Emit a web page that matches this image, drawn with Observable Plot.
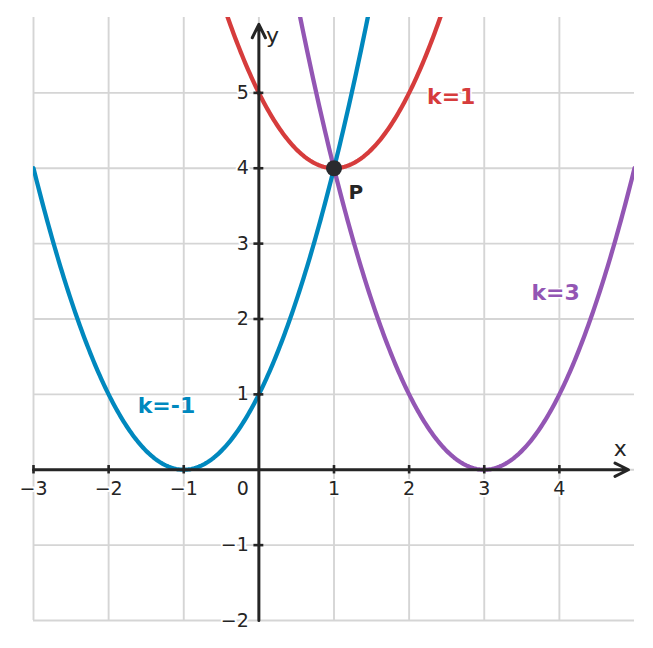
<!DOCTYPE html>
<html>
<head>
<meta charset="utf-8">
<script src="https://cdn.jsdelivr.net/npm/d3@7"></script>
<script src="https://cdn.jsdelivr.net/npm/@observablehq/plot@0.6"></script>
<style>
  html, body { margin: 0; padding: 0; background: #fff; }
  svg { display: block; }
</style>
</head>
<body>
<div id="chart"></div>
<script>
// Family of parabolas y = (x - k)^2 + c, all passing through P(1, 4)
const ks = [-1, 1, 3];
const offsets = [0, 4, 0];
const curveColors = ["#0088be", "#d63c3c", "#9356b4"];
const curveLabels = ["k=-1", "k=1", "k=3"];
const labelX = [-1.23, 2.56, 3.95];
const labelY = [0.84, 4.94, 2.34];

const pointP = { x: 1, y: 4, label: "P", lx: 1.29, ly: 3.68 };

const xTicks = [-3, -2, -1, 1, 2, 3, 4];
const yTicks = [-1, 1, 2, 3, 4, 5];
const yTickLabels = [-2, -1, 1, 2, 3, 4, 5];
const xGrid = [-3, -2, -1, 0, 1, 2, 3, 4];
const yGrid = [-2, -1, 0, 1, 2, 3, 4, 5];
const xDomain = [-3, 5];
const yDomain = [-2, 6];

const fmt = v => (v < 0 ? "\u2212" + Math.abs(v) : String(v));

// sample each curve on the x range
const xs = d3.range(xDomain[0], xDomain[1] + 1e-9, 0.02);
const curveData = ks.flatMap((k, i) =>
  xs.map(x => ({ x, y: (x - k) ** 2 + offsets[i], series: curveLabels[i] }))
);
const labelsData = ks.map((k, i) => ({ x: labelX[i], y: labelY[i], text: curveLabels[i], color: curveColors[i] }));

const ink = "#252525";
const font = "DejaVu Sans, sans-serif";

const chart = Plot.plot({
  width: 653,
  height: 648,
  marginLeft: 33,
  marginRight: 19,
  marginTop: 17,
  marginBottom: 28,
  x: { domain: xDomain, axis: null },
  y: { domain: yDomain, axis: null },
  color: { domain: curveLabels, range: curveColors },
  style: { fontFamily: font, background: "#fff" },
  marks: [
    // grid
    Plot.ruleX(xGrid, { y1: yDomain[0], y2: yDomain[1], stroke: "#d5d5d5", strokeWidth: 1.9 }),
    Plot.ruleY(yGrid, { x1: xDomain[0], x2: xDomain[1], stroke: "#d5d5d5", strokeWidth: 1.9 }),
    // curves
    Plot.line(curveData, { x: "x", y: "y", z: "series", stroke: "series", strokeWidth: 4.3, clip: true }),
    // axes with arrows
    Plot.arrow([{ x1: xDomain[0], y1: 0, x2: 4.92, y2: 0 }], {
      x1: "x1", y1: "y1", x2: "x2", y2: "y2", stroke: ink, strokeWidth: 3, headLength: 7.5, headAngle: 52
    }),
    Plot.arrow([{ x1: 0, y1: yDomain[0], x2: 0, y2: 5.91 }], {
      x1: "x1", y1: "y1", x2: "x2", y2: "y2", stroke: ink, strokeWidth: 3, headLength: 7.5, headAngle: 52
    }),
    // ticks
    Plot.ruleX(xTicks, { y1: -0.056, y2: 0.056, stroke: ink, strokeWidth: 2.6 }),
    Plot.ruleY(yTicks, { x1: -0.066, x2: 0.066, stroke: ink, strokeWidth: 2.6 }),
    // tick labels
    Plot.text(xTicks, { x: d => d, y: 0, dy: 19, text: fmt, fontSize: 19, fill: ink, textAnchor: "middle", lineAnchor: "middle", stroke: "white", strokeWidth: 4 }),
    Plot.text(yTickLabels, { x: 0, y: d => d, dx: -10, text: fmt, fontSize: 19, fill: ink, textAnchor: "end", lineAnchor: "middle", stroke: "white", strokeWidth: 4 }),
    Plot.text([0], { x: 0, y: 0, dx: -16, dy: 19, text: fmt, fontSize: 19, fill: ink, textAnchor: "middle", lineAnchor: "middle", stroke: "white", strokeWidth: 4 }),
    // axis names
    Plot.text(["x"], { x: 4.81, y: 0.27, text: d => d, fontSize: 22, fill: ink, textAnchor: "middle", lineAnchor: "middle" }),
    Plot.text(["y"], { x: 0.18, y: 5.76, text: d => d, fontSize: 22, fill: ink, textAnchor: "middle", lineAnchor: "middle" }),
    // curve labels
    Plot.text(labelsData, { x: "x", y: "y", text: "text", fill: "color", fontSize: 22, fontWeight: "bold", textAnchor: "middle", lineAnchor: "middle", stroke: "white", strokeWidth: 3 }),
    // point P
    Plot.dot([pointP], { x: "x", y: "y", r: 8, fill: "#2a2a2e", stroke: "none" }),
    Plot.text([pointP], { x: "lx", y: "ly", text: "label", fill: ink, fontSize: 20, fontWeight: "bold", textAnchor: "middle", lineAnchor: "middle", stroke: "white", strokeWidth: 3 })
  ]
});

document.getElementById("chart").appendChild(chart);
</script>
</body>
</html>
